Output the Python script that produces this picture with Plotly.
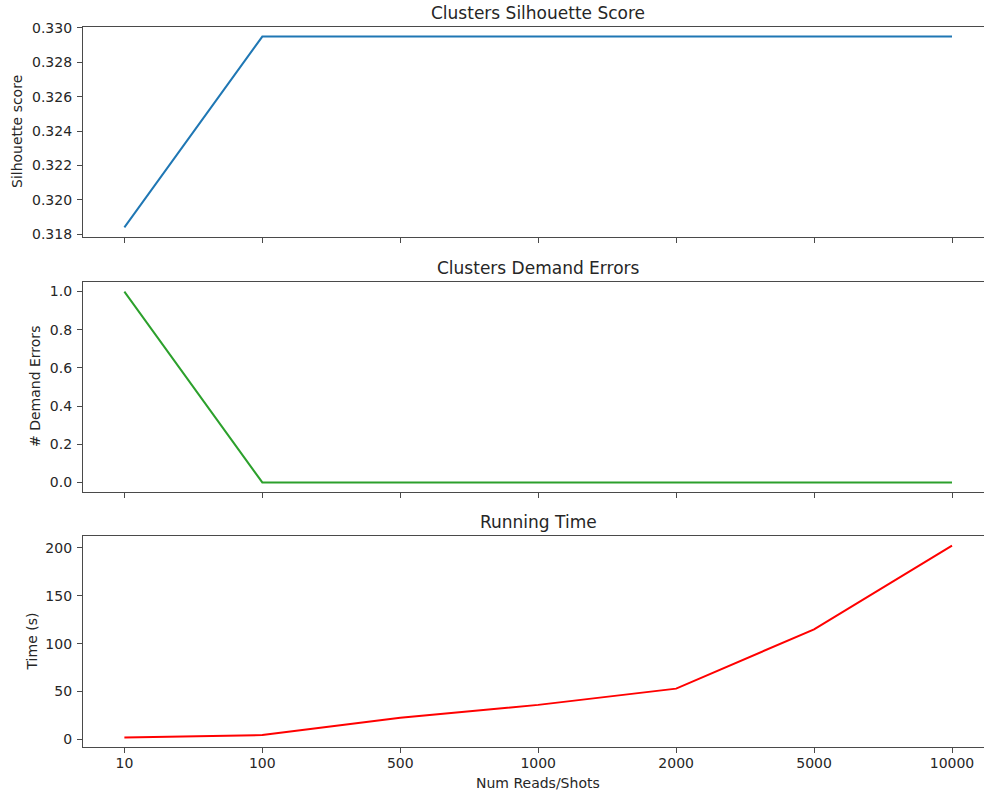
import plotly.graph_objects as go

# Number of reads / shots evaluated (categorical x axis)
reads = ["10", "100", "500", "1000", "2000", "5000", "10000"]

# Metrics per run
silhouette = [0.3184, 0.3295, 0.3295, 0.3295, 0.3295, 0.3295, 0.3295]
demand_errors = [1, 0, 0, 0, 0, 0, 0]
run_time = [2.0, 4.5, 22.5, 36.0, 53.0, 115.0, 202.5]

W, H = 984, 794
LEFT = 83
# vertical extents (pixels from top) of the three panels
panels = [(27, 237), (282, 492), (536, 747)]

TEXT = "#262626"
AXIS = "#4a4a4a"
FONT = "DejaVu Sans"
TICK_SIZE = 14


def padded(vals, frac=0.05):
    lo, hi = min(vals), max(vals)
    m = (hi - lo) * frac
    return [lo - m, hi + m]


def dom(top, bottom):
    return [1 - bottom / H, 1 - top / H]


fig = go.Figure()
series = [
    (silhouette, "#1f77b4", "y"),
    (demand_errors, "#2ca02c", "y2"),
    (run_time, "#ff0000", "y3"),
]
for i, (vals, col, ya) in enumerate(series):
    fig.add_trace(go.Scatter(
        x=reads, y=vals, mode="lines",
        line=dict(color=col, width=2),
        xaxis="x" if i == 0 else f"x{i+1}", yaxis=ya,
        showlegend=False, hoverinfo="skip",
    ))

xr = [-0.3, 6.232]
common_x = dict(
    type="category", range=xr, domain=[LEFT / W, 1], automargin=False,
    showgrid=False, zeroline=False, showline=True, mirror=True,
    linecolor=AXIS, linewidth=1.2, ticks="outside", ticklen=5,
    tickwidth=1, tickcolor=AXIS, fixedrange=True, ticklabelstandoff=-2,
    tickfont=dict(family=FONT, size=TICK_SIZE, color=TEXT),
)
common_y = dict(
    showgrid=False, zeroline=False, showline=True, mirror=False,
    automargin=False, ticklabelstandoff=2,
    linecolor=AXIS, linewidth=1.2, ticks="outside", ticklen=5,
    tickwidth=1, tickcolor=AXIS, fixedrange=True,
    tickfont=dict(family=FONT, size=TICK_SIZE, color=TEXT),
)

fig.update_layout(
    template="none",
    width=W, height=H,
    margin=dict(l=0, r=0, t=0, b=0, pad=0, autoexpand=False),
    paper_bgcolor="white", plot_bgcolor="white",
    xaxis=dict(common_x, anchor="y", showticklabels=False),
    xaxis2=dict(common_x, anchor="y2", showticklabels=False),
    xaxis3=dict(common_x, anchor="y3", showticklabels=True),
    yaxis=dict(common_y, anchor="x", domain=dom(*panels[0]),
               range=padded(silhouette),
               tickvals=[0.318, 0.320, 0.322, 0.324, 0.326, 0.328, 0.330],
               tickformat=".3f"),
    yaxis2=dict(common_y, anchor="x2", domain=dom(*panels[1]),
                range=padded(demand_errors),
                tickvals=[0, 0.2, 0.4, 0.6, 0.8, 1.0], tickformat=".1f"),
    yaxis3=dict(common_y, anchor="x3", domain=dom(*panels[2]),
                range=padded(run_time),
                tickvals=[0, 50, 100, 150, 200]),
)

cx = (LEFT + 993) / 2 / W
titles = ["Clusters Silhouette Score", "Clusters Demand Errors", "Running Time"]
ylabels = [("Silhouette score", 17), ("# Demand Errors", 35), ("Time (s)", 31)]
ann = []
for (top, bottom), t, (yl, lx) in zip(panels, titles, ylabels):
    ann.append(dict(
        text=t, x=cx, y=1 - top / H, xref="paper", yref="paper",
        xanchor="center", yanchor="bottom", yshift=2, showarrow=False,
        font=dict(family=FONT, size=17, color=TEXT),
    ))
    ann.append(dict(
        text=yl, x=lx / W, y=1 - (top + bottom) / 2 / H,
        xref="paper", yref="paper", xanchor="center", yanchor="middle",
        textangle=-90, showarrow=False,
        font=dict(family=FONT, size=TICK_SIZE, color=TEXT),
    ))
ann.append(dict(
    text="Num Reads/Shots", x=cx, y=1 - 783 / H, xref="paper", yref="paper",
    xanchor="center", yanchor="middle", showarrow=False,
    font=dict(family=FONT, size=TICK_SIZE, color=TEXT),
))
fig.update_layout(annotations=ann)

fig.write_html("out.html")
